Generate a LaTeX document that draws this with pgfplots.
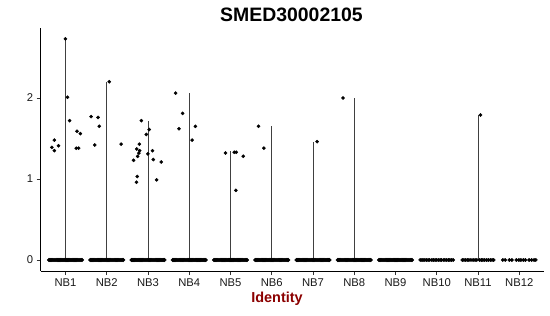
\documentclass[border=0pt]{standalone}
\usepackage{pgfplots}
\pgfplotsset{compat=1.18}
\usepackage{pgfplotstable}
\usepackage{fontspec}
\setmainfont{Liberation Sans}
\definecolor{idred}{RGB}{139,0,0}

% jitter offsets of the zero-valued cells (dense groups)
\pgfplotstableread{
d y
-0.400 0
-0.375 0
-0.350 0
-0.325 0
-0.300 0
-0.275 0
-0.250 0
-0.225 0
-0.200 0
-0.175 0
-0.150 0
-0.125 0
-0.100 0
-0.075 0
-0.050 0
-0.025 0
0.000 0
0.025 0
0.050 0
0.075 0
0.100 0
0.125 0
0.150 0
0.175 0
0.200 0
0.225 0
0.250 0
0.275 0
0.300 0
0.325 0
0.350 0
0.375 0
0.400 0
}\densezero

\pgfplotstableread{
x y
9.60 0
9.64 0
9.67 0
9.71 0
9.75 0
9.79 0
9.83 0
9.88 0
9.92 0
9.96 0
10.00 0
10.04 0
10.08 0
10.12 0
10.17 0
10.20 0
10.24 0
10.28 0
10.32 0
10.36 0
10.40 0
10.62 0
10.66 0
10.70 0
10.74 0
10.78 0
10.83 0
10.88 0
10.93 0
10.97 0
11.04 0
11.08 0
11.12 0
11.16 0
11.21 0
11.25 0
11.30 0
11.34 0
11.38 0
11.60 0
11.66 0
11.76 0
11.82 0
11.93 0
11.99 0
12.04 0
12.10 0
12.15 0
12.24 0
12.30 0
12.36 0
12.40 0
}\sparsezero

\pgfplotstableread{
x y
1.00 2.73
1.05 2.01
1.10 1.72
0.73 1.48
0.67 1.39
0.73 1.35
0.83 1.41
1.28 1.59
1.36 1.56
1.26 1.38
1.32 1.38
2.06 2.20
1.62 1.77
1.79 1.76
1.82 1.65
1.71 1.42
2.35 1.43
2.84 1.72
3.03 1.61
2.96 1.55
2.79 1.43
2.73 1.37
2.80 1.35
2.78 1.32
2.75 1.28
2.65 1.23
3.11 1.35
3.00 1.31
3.13 1.24
3.32 1.21
2.74 1.03
2.72 0.96
3.21 0.99
3.67 2.06
3.84 1.81
3.75 1.62
4.15 1.65
4.07 1.48
4.88 1.32
5.09 1.33
5.14 1.33
5.31 1.28
5.13 0.86
5.68 1.65
5.81 1.38
7.10 1.46
7.73 2.00
11.06 1.79
}\expressed

\pgfplotstableread{
x y
1 2.73
2 2.20
3 1.72
4 2.06
5 1.34
6 1.65
7 1.46
8 2.00
11 1.79
}\violin

\begin{document}
\begin{tikzpicture}
\path[use as bounding box] (-40.7bp,-45bp) rectangle (509.3bp,271bp);
\begin{axis}[
  at={(0,0)}, anchor=south west,
  scale only axis,
  width=503.3bp, height=243bp,
  xmin=0.4, xmax=12.6,
  ymin=-0.136, ymax=2.864,
  axis x line*=bottom, axis y line*=left,
  axis line style={line width=0.7bp, black},
  xtick={1,...,12},
  xticklabels={NB1,NB2,NB3,NB4,NB5,NB6,NB7,NB8,NB9,NB10,NB11,NB12},
  ytick={0,1,2},
  tick align=outside,
  major tick length=4bp,
  tick style={line width=0.6bp, black!80},
  /pgf/number format/assume math mode=true,
  ticklabel style={font=\fontsize{11.3}{13}\selectfont, text=black!90},
  xticklabel style={yshift=-0.5bp},
  clip=false,
]
\addplot[ycomb, black!75, line width=0.5bp, mark=none] table[x=x,y=y] {\violin};
\addplot[only marks, mark=*, mark size=1.8bp, black] table[x expr=\thisrow{d}+1, y=y] {\densezero};
\addplot[only marks, mark=*, mark size=1.8bp, black] table[x expr=\thisrow{d}+2, y=y] {\densezero};
\addplot[only marks, mark=*, mark size=1.8bp, black] table[x expr=\thisrow{d}+3, y=y] {\densezero};
\addplot[only marks, mark=*, mark size=1.8bp, black] table[x expr=\thisrow{d}+4, y=y] {\densezero};
\addplot[only marks, mark=*, mark size=1.8bp, black] table[x expr=\thisrow{d}+5, y=y] {\densezero};
\addplot[only marks, mark=*, mark size=1.8bp, black] table[x expr=\thisrow{d}+6, y=y] {\densezero};
\addplot[only marks, mark=*, mark size=1.8bp, black] table[x expr=\thisrow{d}+7, y=y] {\densezero};
\addplot[only marks, mark=*, mark size=1.8bp, black] table[x expr=\thisrow{d}+8, y=y] {\densezero};
\addplot[only marks, mark=*, mark size=1.8bp, black] table[x expr=\thisrow{d}+9, y=y] {\densezero};
\addplot[only marks, mark=*, mark size=1.7bp, black] table[x=x, y=y] {\sparsezero};
\addplot[only marks, mark=*, mark size=1.6bp, black] table[x=x, y=y] {\expressed};
\end{axis}
\node[font=\bfseries\fontsize{19.5}{22}\selectfont] at (250.8bp,256.5bp) {SMED30002105};
\node[font=\bfseries\fontsize{14.5}{17}\selectfont, text=idred] at (236.3bp,-27.5bp) {Identity};
\end{tikzpicture}
\end{document}
